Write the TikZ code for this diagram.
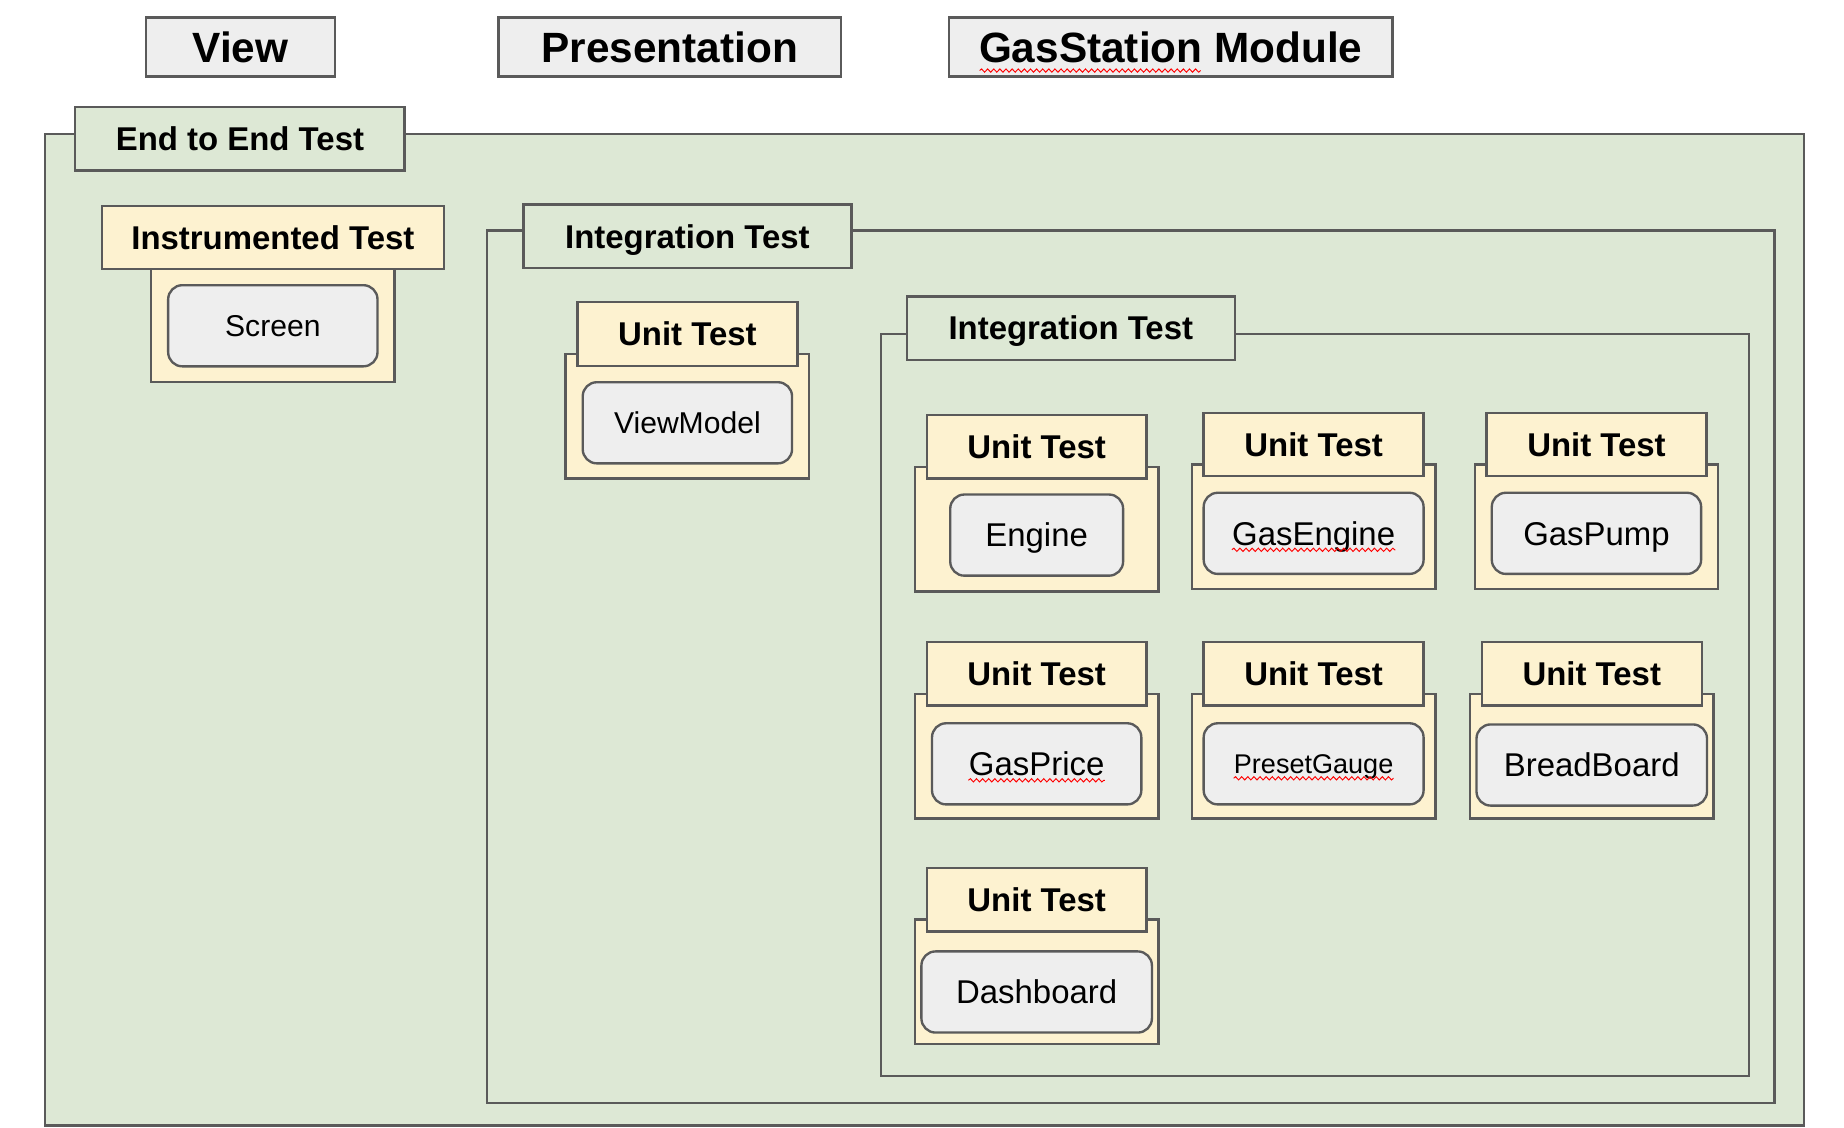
\documentclass[tikz,border=0pt]{standalone}
\usepackage{fontspec}
\setmainfont{Liberation Sans}
\usetikzlibrary{decorations.pathmorphing}
\definecolor{edgegray}{HTML}{5A5A5A}
\definecolor{boxgray}{HTML}{EEEEEE}
\definecolor{testgreen}{HTML}{DDE8D5}
\definecolor{testyellow}{HTML}{FDF2D0}
\tikzset{
  header/.style={draw=edgegray, fill=boxgray, line width=1pt, minimum height=25pt, inner sep=0pt,
    text height=13pt, text depth=0pt, font=\fontsize{18}{21}\selectfont\bfseries},
  frame/.style={draw=edgegray, line width=1pt, inner sep=0pt},
  tab/.style={frame, minimum height=27pt, text height=10pt, text depth=0pt,
    font=\fontsize{14}{16}\selectfont\bfseries},
  greentab/.style={tab, fill=testgreen, minimum width=139.5pt},
  yellowtab/.style={tab, fill=testyellow, minimum width=93.5pt},
  cell/.style={frame, fill=testyellow, minimum width=103.5pt, minimum height=53pt},
  unitbox/.style={frame, fill=boxgray, rounded corners=6pt, minimum height=34.5pt,
    text height=10pt, text depth=0pt, font=\fontsize{14}{16}\selectfont},
  spell/.style={red, line width=0.4pt, decorate, decoration={snake, amplitude=0.7pt, segment length=2.6pt}}
}
\begin{document}
\begin{tikzpicture}[x=0.5pt, y=-0.5pt]
    \useasboundingbox (0,0) rectangle (1568,959);
    % layer headers
    \node[header, minimum width=80.5pt] (view) at (204.5,40) {View};
    \node[header, minimum width=145.5pt] (presentation) at (569.5,40) {Presentation};
    \node[header, minimum width=188.5pt] (gasstation) at (995.5,40) {GasStation Module};
    \draw[spell] ([xshift=-81.25pt, yshift=-3.5pt]gasstation.base) -- ([xshift=12.75pt, yshift=-3.5pt]gasstation.base);

    % end to end
    \node[frame, fill=testgreen, minimum width=748pt, minimum height=421.5pt] (e2eframe) at (786,535.5) {};
    \node[greentab, minimum width=140pt] (e2etab) at (204,118) {End to End Test};

    % instrumented test
    \node[cell, minimum height=48pt] (instrcell) at (232,277) {};
    \node[tab, fill=testyellow, minimum width=145.5pt] (instrtab) at ([yshift=37.5pt]instrcell) {Instrumented Test};
    \node[unitbox, minimum width=89pt, text height=9.2pt, font=\fontsize{12.8}{15}\selectfont] (screen) at (instrcell) {Screen};

    % integration test
    \node[frame, minimum width=547.5pt, minimum height=371pt] (integframe) at (961.5,567) {};
    \node[greentab] (integtab) at (584.5,201) {Integration Test};

    \node[cell] (vmcell) at (584.5,354) {};
    \node[yellowtab] (vmtab) at ([yshift=35pt]vmcell) {Unit Test};
    \node[unitbox, minimum width=89pt, text height=9.2pt, font=\fontsize{12.8}{15}\selectfont] (viewmodel) at ([yshift=-2.75pt]vmcell) {ViewModel};

    % inner integration test
    \node[frame, minimum width=369pt, minimum height=315.5pt] (innerframe) at (1118,599.5) {};
    \node[greentab] (innertab) at (910.5,279) {Integration Test};

    \node[cell] (enginecell) at (881.5,450) {};
    \node[yellowtab] (enginetab) at ([yshift=35pt]enginecell) {Unit Test};
    \node[unitbox, minimum width=73.5pt] (engine) at ([yshift=-2.5pt]enginecell) {Engine};

    \node[cell] (gasenginecell) at (1117,448) {};
    \node[yellowtab] (gasenginetab) at ([yshift=35pt]gasenginecell) {Unit Test};
    \node[unitbox, minimum width=93.5pt] (gasengine) at ([yshift=-2.75pt]gasenginecell) {GasEngine};
    \draw[spell] ([xshift=-34.75pt, yshift=-2pt]gasengine.base) -- ([xshift=34.75pt, yshift=-2pt]gasengine.base);

    \node[cell] (gaspumpcell) at (1357.5,448) {};
    \node[yellowtab] (gaspumptab) at ([yshift=35pt]gaspumpcell) {Unit Test};
    \node[unitbox, minimum width=89pt] (gaspump) at ([yshift=-2.75pt]gaspumpcell) {GasPump};

    \node[cell] (gaspricecell) at (881.5,643) {};
    \node[yellowtab] (gaspricetab) at ([yshift=35pt]gaspricecell) {Unit Test};
    \node[unitbox, minimum width=89pt] (gasprice) at ([yshift=-3.25pt]gaspricecell) {GasPrice};
    \draw[spell] ([xshift=-29pt, yshift=-2pt]gasprice.base) -- ([xshift=29pt, yshift=-2pt]gasprice.base);

    \node[cell] (presetcell) at (1117,643) {};
    \node[yellowtab] (presettab) at ([yshift=35pt]presetcell) {Unit Test};
    \node[unitbox, minimum width=93.5pt, text height=8.3pt, font=\fontsize{11.5}{14}\selectfont] (presetgauge) at ([yshift=-3.25pt]presetcell) {PresetGauge};
    \draw[spell] ([xshift=-34pt, yshift=-2pt]presetgauge.base) -- ([xshift=34pt, yshift=-2pt]presetgauge.base);

    \node[cell] (breadcell) at (1353.5,643) {};
    \node[yellowtab] (breadtab) at ([yshift=35pt]breadcell) {Unit Test};
    \node[unitbox, minimum width=98pt] (breadboard) at ([yshift=-3.75pt]breadcell) {BreadBoard};

    \node[cell] (dashcell) at (881.5,835) {};
    \node[yellowtab] (dashtab) at ([yshift=35pt]dashcell) {Unit Test};
    \node[unitbox, minimum width=98pt] (dashboard) at ([yshift=-4.25pt]dashcell) {Dashboard};
\end{tikzpicture}
\end{document}
